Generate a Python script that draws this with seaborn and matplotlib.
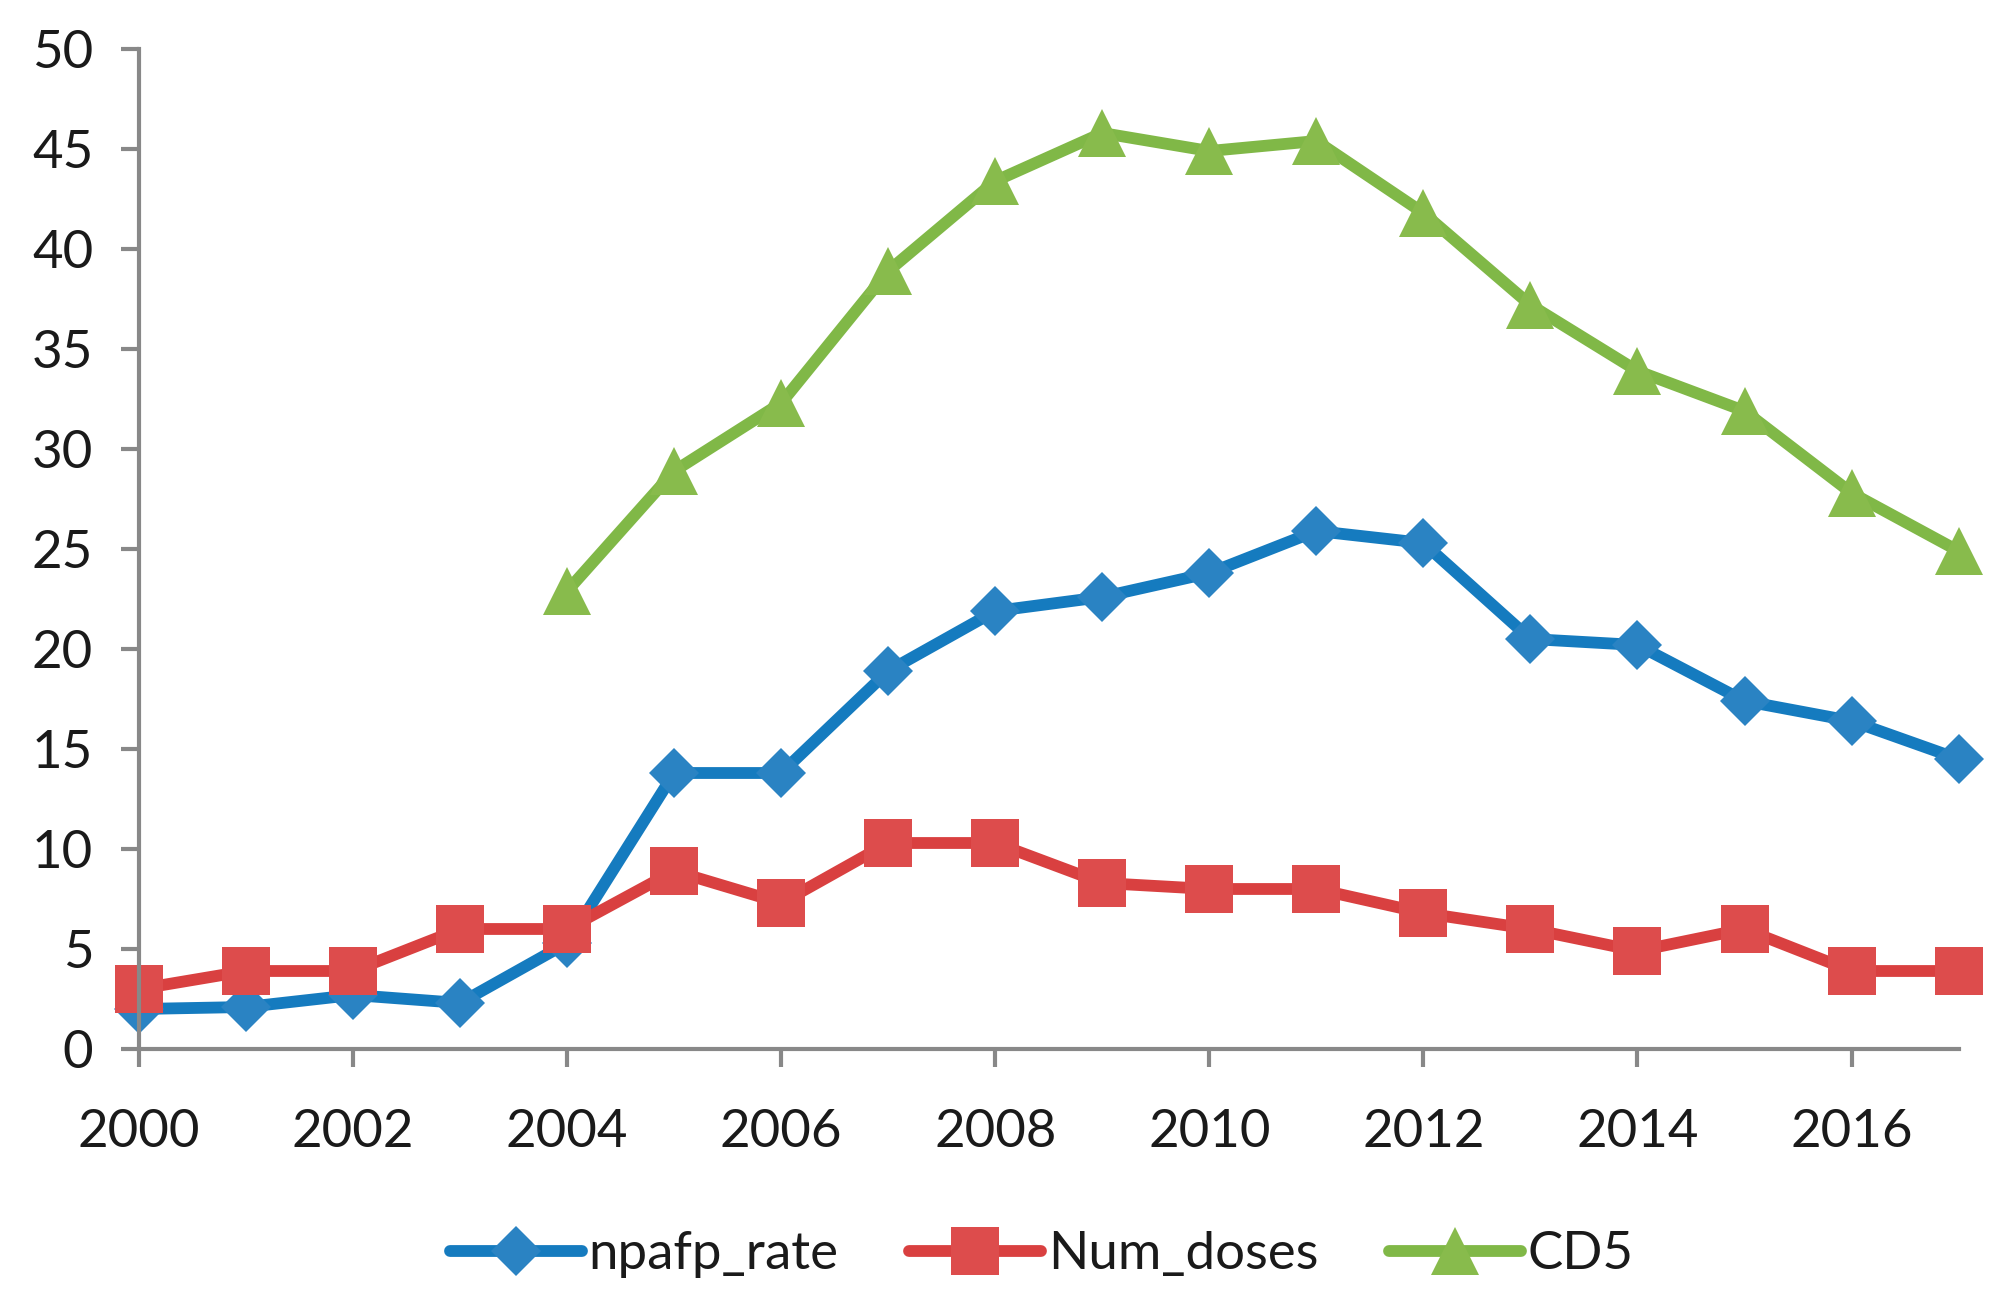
import numpy as np
import pandas as pd
import seaborn as sns
import matplotlib.pyplot as plt
from matplotlib.lines import Line2D

years = list(range(2000, 2018))
npafp_rate = [2.0, 2.1, 2.7, 2.3, 5.3, 13.8, 13.8, 18.9, 21.9, 22.6, 23.8, 25.9, 25.3, 20.5, 20.2, 17.4, 16.4, 14.5]
num_doses = [3.0, 3.9, 3.9, 6.0, 6.0, 8.9, 7.3, 10.3, 10.3, 8.3, 8.0, 8.0, 6.8, 6.0, 4.9, 6.0, 3.9, 3.9]
cd5_years = list(range(2004, 2018))
cd5 = [22.9, 28.9, 32.3, 38.9, 43.4, 45.8, 44.9, 45.4, 41.8, 37.2, 33.9, 31.9, 27.8, 24.9]

series_names = ['npafp_rate', 'Num_doses', 'CD5']
line_colors = ['#157BBF', '#D94040', '#80B847']
face_colors = ['#2A83C3', '#DD4C4C', '#88BB4C']
markers = ['D', 's', '^']
marker_sizes = [25, 34, 34]
lw = 8.5

sns.set_theme(style='white')
plt.rcParams['font.family'] = ['Lato', 'DejaVu Sans']

df = pd.concat([
    pd.DataFrame({'year': years, 'value': npafp_rate, 'series': 'npafp_rate'}),
    pd.DataFrame({'year': years, 'value': num_doses, 'series': 'Num_doses'}),
    pd.DataFrame({'year': cd5_years, 'value': cd5, 'series': 'CD5'}),
])

fig = plt.figure(figsize=(20.15, 13.07), dpi=100)
ax = fig.add_axes([0.069, 0.1974, 0.903, 0.7651])

for name, lc, fc, m, ms in zip(series_names, line_colors, face_colors, markers, marker_sizes):
    sub = df[df['series'] == name]
    sns.lineplot(data=sub, x='year', y='value', ax=ax, color=lc, linewidth=lw,
                 marker=m, markersize=ms, markerfacecolor=fc, markeredgecolor=fc,
                 markeredgewidth=0, clip_on=False, legend=False)

ax.set_xlim(2000, 2017)
ax.set_ylim(0, 50)
ax.set_xticks(range(2000, 2017, 2))
ax.set_yticks(range(0, 51, 5))
ax.set_xlabel('')
ax.set_ylabel('')

for side in ['top', 'right']:
    ax.spines[side].set_visible(False)
for side in ['left', 'bottom']:
    ax.spines[side].set_color('#888888')
    ax.spines[side].set_linewidth(3)

ax.tick_params(axis='both', which='major', direction='out', length=13, width=3,
               color='#888888', labelsize=38, labelcolor='#1a1a1a')
ax.tick_params(axis='y', pad=20)
ax.tick_params(axis='x', pad=30)
ax.tick_params(left=True, bottom=True)

handles = [Line2D([0], [0], color=lc, linewidth=lw, marker=m, markersize=ms,
                  markerfacecolor=fc, markeredgewidth=0)
           for lc, fc, m, ms in zip(line_colors, face_colors, markers, marker_sizes)]
fig.legend(handles, series_names, loc='center', bbox_to_anchor=(0.517, 0.04), ncol=3,
           frameon=False, fontsize=38, handlelength=2.5, handletextpad=0.12,
           columnspacing=1.35, labelcolor='#1a1a1a')

plt.savefig('out.png', dpi=100)
